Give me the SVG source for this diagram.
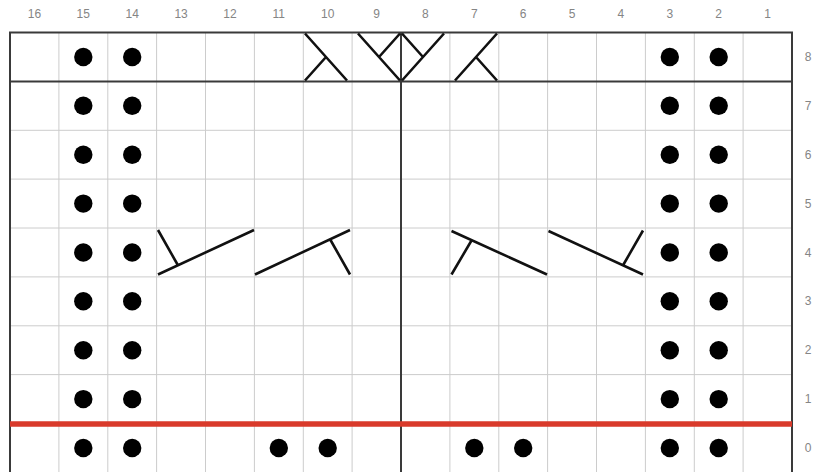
<svg xmlns="http://www.w3.org/2000/svg" width="815" height="472" viewBox="0 0 815 472">
<style>
.num{font-family:"Liberation Sans",Arial,sans-serif;font-size:12px;fill:#858585;text-anchor:middle;dominant-baseline:central}
.grid{stroke:#cccccc;stroke-width:1;fill:none}
.thick{stroke:#3a3a3a;stroke-width:2;fill:none}
.cable{stroke:#111;stroke-width:2.6;fill:none;stroke-linecap:butt}
.dot{fill:#000}
</style>
<rect width="815" height="472" fill="#fff"/>
<g id="column-numbers">
<text class="num" x="34.4" y="14">16</text>
<text class="num" x="83.3" y="14">15</text>
<text class="num" x="132.2" y="14">14</text>
<text class="num" x="181.1" y="14">13</text>
<text class="num" x="229.9" y="14">12</text>
<text class="num" x="278.8" y="14">11</text>
<text class="num" x="327.7" y="14">10</text>
<text class="num" x="376.6" y="14">9</text>
<text class="num" x="425.4" y="14">8</text>
<text class="num" x="474.3" y="14">7</text>
<text class="num" x="523.2" y="14">6</text>
<text class="num" x="572.1" y="14">5</text>
<text class="num" x="620.9" y="14">4</text>
<text class="num" x="669.8" y="14">3</text>
<text class="num" x="718.7" y="14">2</text>
<text class="num" x="767.6" y="14">1</text>
</g>
<g id="row-numbers">
<text class="num" x="808" y="57">8</text>
<text class="num" x="808" y="105.8">7</text>
<text class="num" x="808" y="154.7">6</text>
<text class="num" x="808" y="203.6">5</text>
<text class="num" x="808" y="252.5">4</text>
<text class="num" x="808" y="301.3">3</text>
<text class="num" x="808" y="350.2">2</text>
<text class="num" x="808" y="399.1">1</text>
<text class="num" x="808" y="448">0</text>
</g>
<g id="grid">
<path class="grid" d="M58.9 32.5V472M107.8 32.5V472M156.6 32.5V472M205.5 32.5V472M254.4 32.5V472M303.3 32.5V472M352.1 32.5V472M449.9 32.5V472M498.8 32.5V472M547.6 32.5V472M596.5 32.5V472M645.4 32.5V472M694.3 32.5V472M743.1 32.5V472"/>
<path class="grid" d="M10 130.3H792M10 179.1H792M10 228H792M10 276.9H792M10 325.8H792M10 374.6H792"/>
<path class="thick" d="M10 472V32.5H792V472"/>
<path class="thick" d="M401 32.5V472M10 81.4H792"/>
<path d="M10 424H792" stroke="#d93a2b" stroke-width="5.5"/>
</g>
<g id="purl-dots">
<circle class="dot" cx="83.3" cy="57" r="9.2"/><circle class="dot" cx="132.2" cy="57" r="9.2"/><circle class="dot" cx="669.8" cy="57" r="9.2"/><circle class="dot" cx="718.7" cy="57" r="9.2"/>
<circle class="dot" cx="83.3" cy="105.8" r="9.2"/><circle class="dot" cx="132.2" cy="105.8" r="9.2"/><circle class="dot" cx="669.8" cy="105.8" r="9.2"/><circle class="dot" cx="718.7" cy="105.8" r="9.2"/>
<circle class="dot" cx="83.3" cy="154.7" r="9.2"/><circle class="dot" cx="132.2" cy="154.7" r="9.2"/><circle class="dot" cx="669.8" cy="154.7" r="9.2"/><circle class="dot" cx="718.7" cy="154.7" r="9.2"/>
<circle class="dot" cx="83.3" cy="203.6" r="9.2"/><circle class="dot" cx="132.2" cy="203.6" r="9.2"/><circle class="dot" cx="669.8" cy="203.6" r="9.2"/><circle class="dot" cx="718.7" cy="203.6" r="9.2"/>
<circle class="dot" cx="83.3" cy="252.5" r="9.2"/><circle class="dot" cx="132.2" cy="252.5" r="9.2"/><circle class="dot" cx="669.8" cy="252.5" r="9.2"/><circle class="dot" cx="718.7" cy="252.5" r="9.2"/>
<circle class="dot" cx="83.3" cy="301.3" r="9.2"/><circle class="dot" cx="132.2" cy="301.3" r="9.2"/><circle class="dot" cx="669.8" cy="301.3" r="9.2"/><circle class="dot" cx="718.7" cy="301.3" r="9.2"/>
<circle class="dot" cx="83.3" cy="350.2" r="9.2"/><circle class="dot" cx="132.2" cy="350.2" r="9.2"/><circle class="dot" cx="669.8" cy="350.2" r="9.2"/><circle class="dot" cx="718.7" cy="350.2" r="9.2"/>
<circle class="dot" cx="83.3" cy="399.1" r="9.2"/><circle class="dot" cx="132.2" cy="399.1" r="9.2"/><circle class="dot" cx="669.8" cy="399.1" r="9.2"/><circle class="dot" cx="718.7" cy="399.1" r="9.2"/>
<circle class="dot" cx="83.3" cy="448" r="9.2"/><circle class="dot" cx="132.2" cy="448" r="9.2"/><circle class="dot" cx="278.8" cy="448" r="9.2"/><circle class="dot" cx="327.7" cy="448" r="9.2"/><circle class="dot" cx="474.3" cy="448" r="9.2"/><circle class="dot" cx="523.2" cy="448" r="9.2"/><circle class="dot" cx="669.8" cy="448" r="9.2"/><circle class="dot" cx="718.7" cy="448" r="9.2"/>
</g>
<g id="row8-cables">
<path class="cable" d="M305 33.5L347 80.5M305 80.5L326 57"/>
<path class="cable" d="M358 33.5L400 80.5M400 33.5L379 57"/>
<path class="cable" d="M444 33.5L402 80.5M402 33.5L423 57"/>
<path class="cable" d="M497 33.5L455 80.5M497 80.5L476 57"/>
</g>
<g id="row4-cables">
<path class="cable" d="M158 274.5L254 230M158 230L177.5 264.5"/>
<path class="cable" d="M255 274.5L350 230M330.5 240L350 274.5"/>
<path class="cable" d="M451.5 231L547 274.5M471.5 240.5L451.5 274.5"/>
<path class="cable" d="M548.5 231L643 274.5M643 230.5L623.5 264.5"/>
</g>
</svg>
